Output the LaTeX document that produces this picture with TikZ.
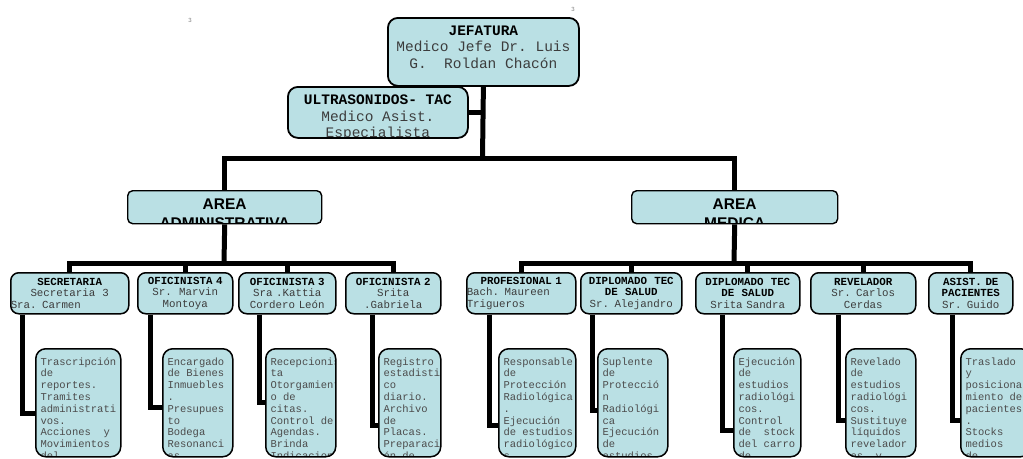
\documentclass[tikz,border=0pt]{standalone}
\usepackage{fontspec}
\setmonofont{Liberation Mono}
\newfontfamily\arialfont{Liberation Sans}
\usepackage{tikz}
\definecolor{celeste}{RGB}{186,224,228}
\definecolor{grisletra}{RGB}{60,60,60}
\tikzset{
	caja/.style={draw=black, fill=celeste, anchor=north west, inner sep=0pt},
	dentro/.style={inner sep=0pt, minimum width=0pt, minimum height=0pt},
	jefbox/.style={caja, line width=1.8pt, rounded corners=10pt,
		path picture={\node[dentro, anchor=north, align=center, text=grisletra,
			font=\ttfamily\fontsize{14.5}{16.5}\selectfont] at ([yshift=-7pt]path picture bounding box.north) {#1};}},
	areabox/.style={caja, line width=1.4pt, rounded corners=5pt,
		path picture={\node[dentro, anchor=north, align=center,
			font=\arialfont\bfseries\fontsize{15.5}{19}\selectfont] at ([yshift=-7pt]path picture bounding box.north) {#1};}},
	cargobox/.style={caja, line width=1.5pt, rounded corners=8pt, minimum height=41pt,
		text width=#1, align=center, text=grisletra, font=\ttfamily\fontsize{10.8}{11.3}\selectfont},
	tareabox/.style={caja, line width=1.5pt, rounded corners=10pt, minimum height=108pt,
		path picture={\node[dentro, anchor=north west, align=left, text=black!70,
			font=\ttfamily\fontsize{10.5}{11.8}\selectfont] at ([xshift=4pt,yshift=-8pt]path picture bounding box.north west) {#1};}},
	conector/.style={draw=black, line width=5pt},
	marca/.style={text=gray, inner sep=0pt, font=\arialfont\fontsize{6}{6}\selectfont}
}
\newcommand{\jefe}[1]{\textcolor{black}{\textbf{#1}}}
\newcommand{\izq}[1]{\makebox[\linewidth][l]{#1}}

\begin{document}
\begin{tikzpicture}[x=1pt, y=-1pt]
	\useasboundingbox (0,0) rectangle (1023,458);

	\node[marca] (m1) at (190,20) {3};
	\node[marca] (m2) at (573,9) {3};

	% jefatura
	\node[jefbox={\jefe{JEFATURA}\\Medico Jefe Dr. Luis\\G.~~Roldan Chacón}, minimum width=191pt, minimum height=68pt] (jef) at (387,17) {};
	\node[jefbox={\jefe{ULTRASONIDOS- TAC}\\Medico Asist.\\Especialista}, minimum width=180pt, minimum height=51pt] (ultra) at (287,86) {};

	% areas
	\node[areabox={AREA\\ADMINISTRATIVA}, minimum width=194pt, minimum height=33pt] (admin) at (127,190) {};
	\node[areabox={AREA\\MEDICA}, minimum width=206pt, minimum height=33pt] (medica) at (631,190) {};

	% cargos
	\node[cargobox=118pt] (sec) at (10,272) {\jefe{SECRETARIA}\\Secretaria~~3\\\izq{Sra. Carmen}};
	\node[cargobox=95pt] (of4) at (137,272) {\jefe{OFICINISTA 4}\\Sr.~~Marvin\\Montoya};
	\node[cargobox=97pt] (of3) at (238,272) {\jefe{OFICINISTA 3}\\Sra .Kattia\\Cordero León};
	\node[cargobox=95pt] (of2) at (345,272) {\jefe{OFICINISTA 2}\\Srita\\.Gabriela};
	\node[cargobox=109pt] (prof) at (466,272) {\jefe{PROFESIONAL 1}\\\izq{Bach. Maureen}\\\izq{Trigueros}};
	\node[cargobox=101pt] (dip1) at (580,272) {\jefe{DIPLOMADO~~TEC}\\\jefe{DE~~SALUD}\\Sr. Alejandro};
	\node[cargobox=104pt] (dip2) at (695,272) {\jefe{DIPLOMADO~~TEC}\\\jefe{DE~~SALUD}\\Srita Sandra};
	\node[cargobox=105pt] (rev) at (810,272) {\jefe{REVELADOR}\\Sr. Carlos\\Cerdas};
	\node[cargobox=84pt] (asi) at (928,272) {\jefe{ASIST. DE}\\\jefe{PACIENTES}\\Sr. Guido};

	% tareas
	\node[tareabox={Trascripción\\de\\reportes.\\Tramites\\administrati\\vos.\\Acciones~~y\\Movimientos\\del}, minimum width=85pt] (t1) at (35,348) {};
	\node[tareabox={Encargado\\de Bienes\\Inmuebles\\.\\Presupues\\to\\Bodega\\Resonanci\\as}, minimum width=70pt] (t2) at (162,348) {};
	\node[tareabox={Recepcionis\\ta\\Otorgamient\\o de\\citas.\\Control de\\Agendas.\\Brinda\\Indicaciones}, minimum width=70pt] (t3) at (265,348) {};
	\node[tareabox={Registro\\estadisti\\co\\diario.\\Archivo\\de\\Placas.\\Preparaci\\ón de}, minimum width=62pt] (t4) at (378,348) {};
	\node[tareabox={Responsable\\de\\Protección\\Radiológica\\.\\Ejecución\\de estudios\\radiológico\\s.}, minimum width=77pt] (t5) at (498,348) {};
	\node[tareabox={Suplente\\de\\Protecció\\n\\Radiológi\\ca\\Ejecución\\de\\estudios}, minimum width=70pt] (t6) at (597,348) {};
	\node[tareabox={Ejecución\\de\\estudios\\radiológi\\cos.\\Control\\de~~stock\\del carro\\de}, minimum width=67pt] (t7) at (733,348) {};
	\node[tareabox={Revelado\\de\\estudios\\radiológi\\cos.\\Sustituye\\líquidos\\revelador\\es~~y}, minimum width=70pt] (t8) at (845,348) {};
	\node[tareabox={Traslado\\y\\posiciona\\miento de\\pacientes\\.\\Stocks\\medios\\de}, minimum width=70pt] (t9) at (960,348) {};

	% conectores
	\coordinate (nudo) at (482.5,158);
	\coordinate (barraA) at (224,263);
	\coordinate (barraM) at (734,263);
	\draw[conector] (jef.south) -- (nudo);
	\draw[conector] (ultra.east) -- (ultra.east -| nudo);
	\draw[conector] (admin.north) |- (nudo) -| (medica.north);
	\draw[conector] (admin.south) -- (barraA);
	\draw[conector] (medica.south) -- (barraM);
	\draw[conector] (sec.north) |- (barraA) -| (of2.north);
	\draw[conector] (of4.north) -- (of4.north |- barraA);
	\draw[conector] (of3.north) -- (of3.north |- barraA);
	\draw[conector] (prof.north) |- (barraM) -| (asi.north);
	\draw[conector] (dip1.north) -- (dip1.north |- barraM);
	\draw[conector] (dip2.north) -- (dip2.north |- barraM);
	\draw[conector] (rev.north) -- (rev.north |- barraM);

	\draw[conector] ([xshift=12pt]sec.south west) |- ([yshift=-11pt]t1.west);
	\draw[conector] ([xshift=13pt]of4.south west) |- ([yshift=-5pt]t2.west);
	\draw[conector] ([xshift=21pt]of3.south west) |- (t3.west);
	\draw[conector] ([xshift=27pt]of2.south west) |- ([yshift=-23pt]t4.west);
	\draw[conector] ([xshift=23pt]prof.south west) |- ([yshift=-23pt]t5.west);
	\draw[conector] ([xshift=12pt]dip1.south west) |- ([yshift=-8pt]t6.west);
	\draw[conector] ([xshift=27pt]dip2.south west) |- ([yshift=-28pt]t7.west);
	\draw[conector] ([xshift=28pt]rev.south west) |- ([yshift=-18pt]t8.west);
	\draw[conector] ([xshift=24pt]asi.south west) |- ([yshift=-18pt]t9.west);
\end{tikzpicture}
\end{document}
